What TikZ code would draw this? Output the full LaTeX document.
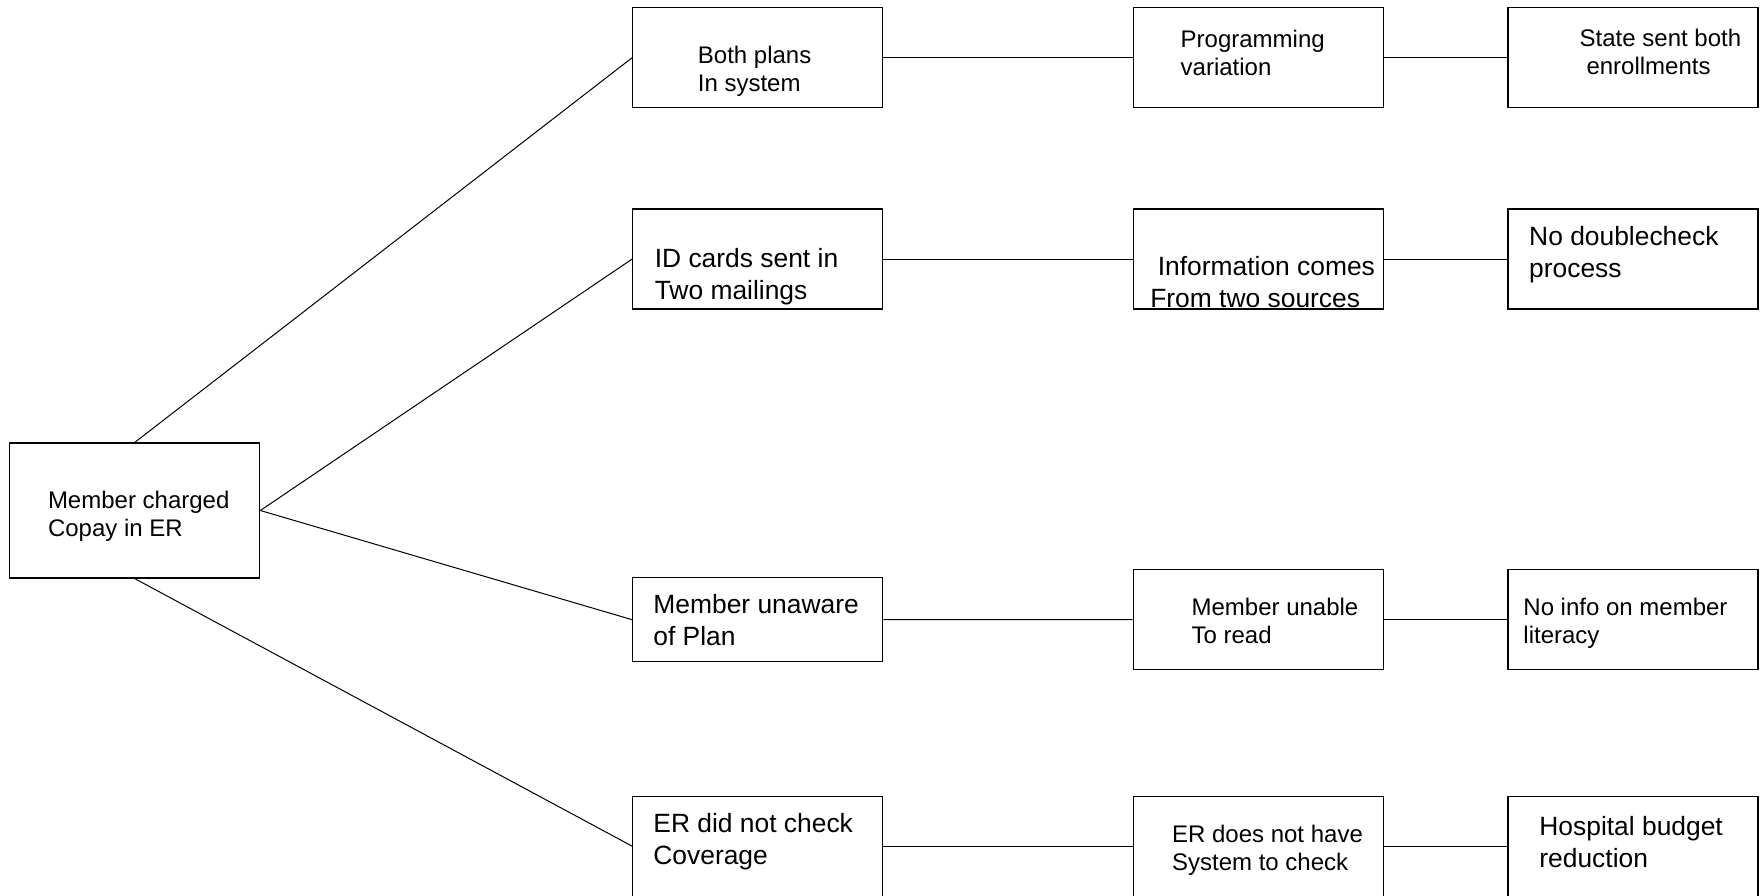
\documentclass[tikz,border=0pt]{standalone}
\usepackage{fontspec}
\setmainfont{Liberation Sans}
\tikzset{
  cause/.style={draw, line width=0.6pt, rectangle, minimum width=125pt, minimum height=50pt, inner sep=0pt},
  lbl/.style={anchor=north west, inner sep=0pt, align=left},
  sm/.style={lbl, font=\fontsize{12}{14}\selectfont},
  lg/.style={lbl, font=\fontsize{13.2}{15.85}\selectfont},
  link/.style={line width=0.5pt}
}

\begin{document}
\begin{tikzpicture}[x=0.5pt, y=-0.5pt]
\useasboundingbox (0,0) rectangle (1760,895);

\node[cause, minimum height=67.5pt] (member) at (134.75,510.5) {};
\node[sm] (memberTxt) at (47.6,491.1) {Member charged\\Copay in ER};

\node[cause] (plans) at (757.8,57.65) {};
\node[cause] (cards) at (757.8,259) {};
\node[cause, minimum height=42pt] (unaware) at (757.8,619.7) {};
\node[cause] (nocheck) at (757.8,846.2) {};
\node[sm] (plansTxt) at (697.5,46.1) {Both plans\\In system};
\node[lg] (cardsTxt) at (654.4,247.8) {ID cards sent in\\Two mailings};
\node[lg] (unawareTxt) at (653,594.4) {Member unaware\\of Plan};
\node[lg] (nocheckTxt) at (653,812.8) {ER did not check\\Coverage};

\node[cause] (prog) at (1258.2,57.65) {};
\node[cause] (sources) at (1258.2,259) {};
\node[cause] (unable) at (1258.2,619.5) {};
\node[cause] (nosystem) at (1258.2,846.2) {};
\node[sm] (progTxt) at (1180.3,29.5) {Programming\\variation};
\node[lg] (sourcesTxt) at (1149.9,256.1) {\hspace*{3.75pt}Information comes\\From two sources};
\node[sm] (unableTxt) at (1191.2,597.8) {Member unable\\To read};
\node[sm] (nosystemTxt) at (1171.7,824.5) {ER does not have\\System to check};

\node[cause] (state) at (1633,57.65) {};
\node[cause] (double) at (1633,259) {};
\node[cause] (literacy) at (1633,619.5) {};
\node[cause] (budget) at (1633,846.2) {};
\node[sm] (stateTxt) at (1579.3,28.8) {State sent both\\\hspace*{3.4pt}enrollments};
\node[lg] (doubleTxt) at (1528.8,226.1) {No doublecheck\\process};
\node[sm] (literacyTxt) at (1523,597.8) {No info on member\\literacy};
\node[lg] (budgetTxt) at (1539,816.1) {Hospital budget\\reduction};

\draw[link] (member.north) -- (plans.west);
\draw[link] (member.east) -- (cards.west);
\draw[link] (member.east) -- (unaware.west);
\draw[link] (member.south) -- (nocheck.west);

\draw[link] (plans.east) -- (prog.west);
\draw[link] (prog.east) -- (state.west);
\draw[link] (cards.east) -- (sources.west);
\draw[link] (sources.east) -- (double.west);
\draw[link] (unaware.east) -- (unable.west);
\draw[link] (unable.east) -- (literacy.west);
\draw[link] (nocheck.east) -- (nosystem.west);
\draw[link] (nosystem.east) -- (budget.west);
\end{tikzpicture}
\end{document}
